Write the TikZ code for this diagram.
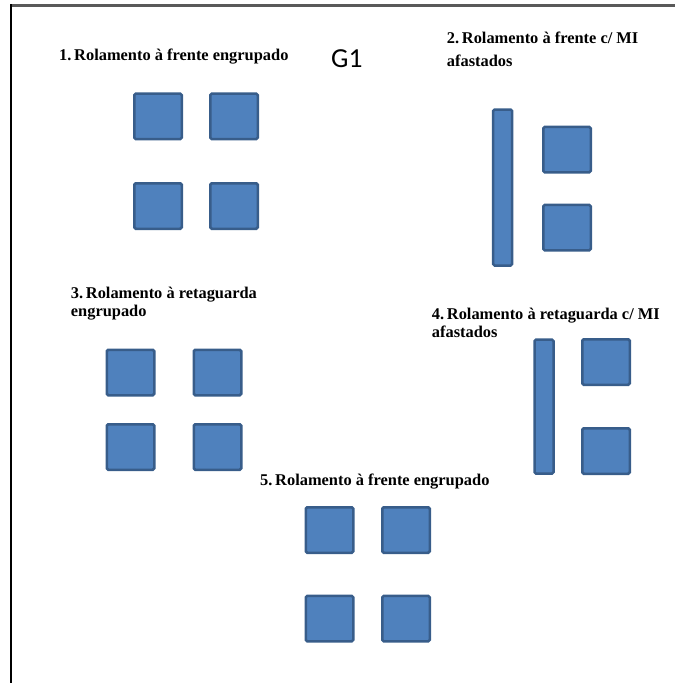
\documentclass[tikz,border=0pt]{standalone}
\usepackage{fontspec}
\setmainfont{Liberation Serif}
\newfontfamily\gfont{Carlito}
\usetikzlibrary{positioning}

\definecolor{boxfill}{HTML}{4F81BD}
\definecolor{boxline}{HTML}{385D8A}
\definecolor{framegray}{HTML}{595959}

\tikzset{
  sq/.style={draw=boxline, fill=boxfill, line width=2.5pt, rounded corners=1.5pt,
    minimum width=47.5pt, minimum height=45.5pt, inner sep=0pt},
  mibar/.style={sq, minimum width=19pt},
  lbl/.style={font=\bfseries\fontsize{16.4}{18}\selectfont, anchor=base west,
    inner sep=0pt, align=left},
}

\begin{document}
\begin{tikzpicture}[x=1pt, y=-1pt]
    \useasboundingbox (0,0) rectangle (675,683);

    % Frame of the page
    \coordinate (TL) at (11,5.5);
    \coordinate (TR) at (675,5.5);
    \coordinate (BL) at (11,683);
    \draw[line width=3pt, framegray] (TL) -- (TR);
    \draw[line width=2pt, black] (11,4) -- (BL);

    % Group name
    \node[anchor=base west, inner sep=0pt, font=\gfont\fontsize{27.5}{30}\selectfont] (g1) at (331,67.3) {G1};

    % 1. Rolamento a frente engrupado
    \node[lbl] (t1) at (59,60.3) {1.\,Rolamento à frente engrupado};
    \node[sq] (a1) at (158,116.3) {};
    \node[sq] (a2) at (234,116.3) {};
    \node[sq] (a3) at (158,206) {};
    \node[sq] (a4) at (234,206) {};

    % 2. Rolamento a frente c/ MI afastados (base = last line)
    \node[lbl] (t2) at (446.7,66.7) {2.\,Rolamento à frente c/ MI\\[5pt]afastados};
    \node[mibar, minimum height=156pt] (b1) at (502.7,187.5) {};
    \node[sq] (b2) at (567,149.7) {};
    \node[sq] (b3) at (567,227.7) {};

    % 3. Rolamento a retaguarda engrupado
    \node[lbl] (t3) at (70.7,316.3) {3.\,Rolamento à retaguarda\\engrupado};
    \node[sq] (c1) at (130.5,372.5) {};
    \node[sq] (c2) at (217.5,372.5) {};
    \node[sq] (c3) at (130.5,447) {};
    \node[sq] (c4) at (217.5,447) {};

    % 4. Rolamento a retaguarda c/ MI afastados
    \node[lbl] (t4) at (431.7,337) {4.\,Rolamento à retaguarda c/ MI\\afastados};
    \node[mibar, minimum height=134pt] (d1) at (544,406.7) {};
    \node[sq] (d2) at (606,362) {};
    \node[sq] (d3) at (606,451) {};

    % 5. Rolamento a frente engrupado
    \node[lbl] (t5) at (260,485) {5.\,Rolamento à frente engrupado};
    \node[sq] (e1) at (329.5,530) {};
    \node[sq] (e2) at (406,530) {};
    \node[sq] (e3) at (329.5,618.7) {};
    \node[sq] (e4) at (406,618.7) {};
\end{tikzpicture}
\end{document}
